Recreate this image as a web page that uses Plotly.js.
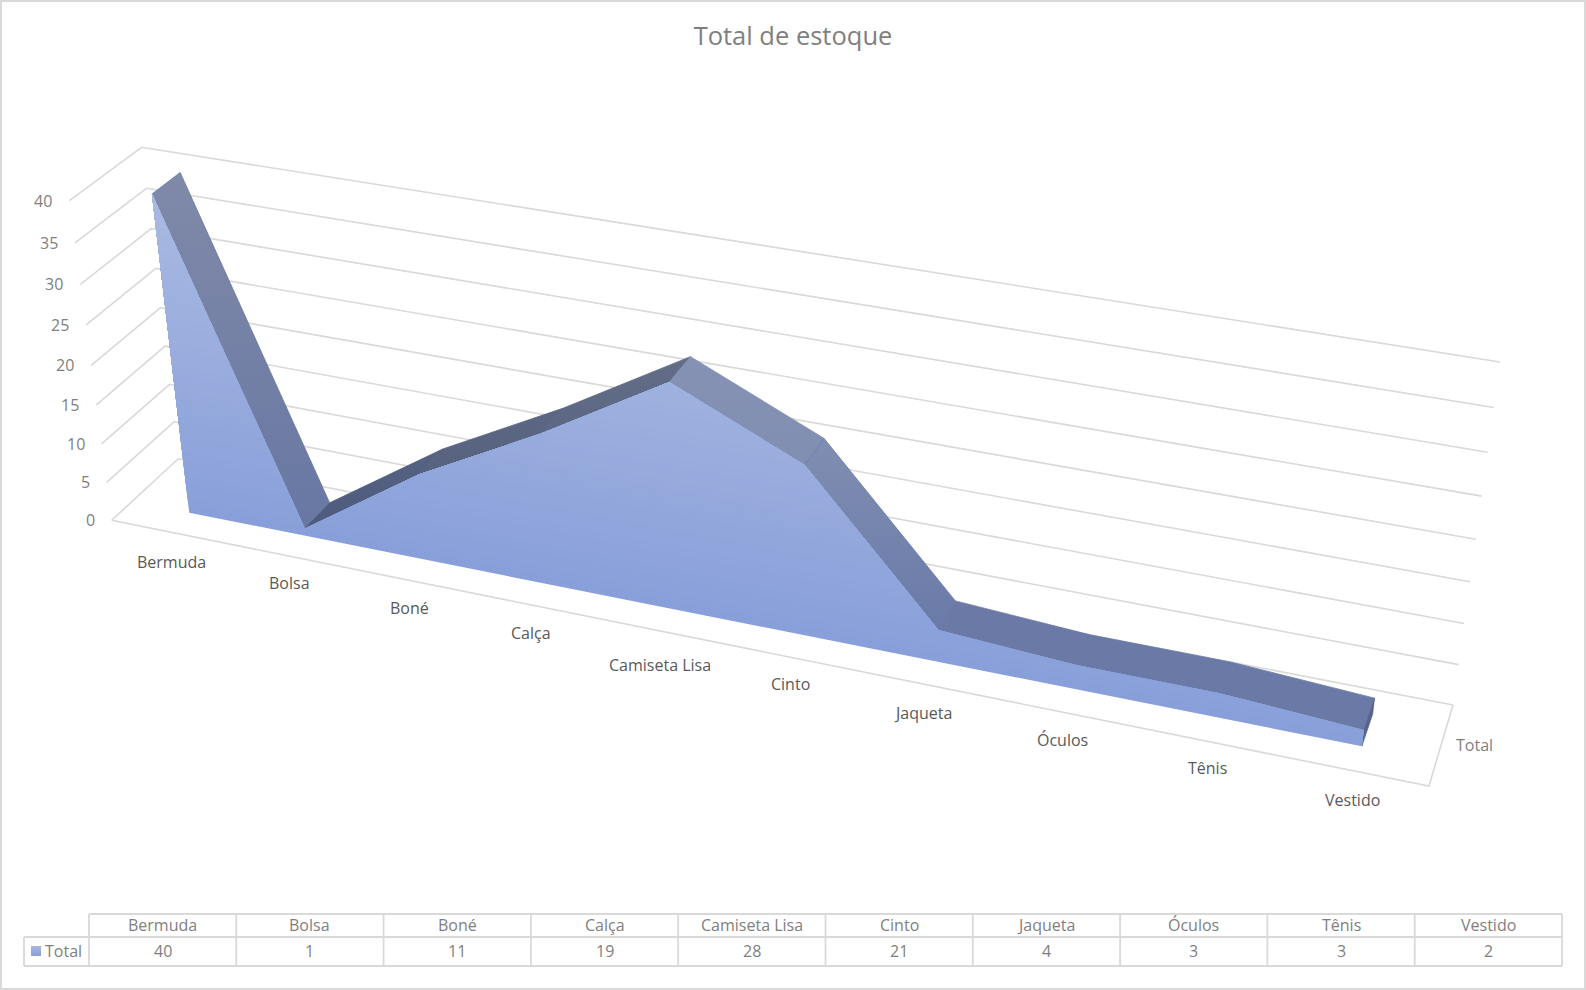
<!DOCTYPE html>
<html><head><meta charset="utf-8">
<script src="https://cdn.plot.ly/plotly-3.0.1.min.js"></script>
<style>html,body{margin:0;padding:0;background:#fff;overflow:hidden}</style>
</head><body><div id="chart" style="width:1586px;height:990px"></div>
<script>
// ---- data ----
const categories = ["Bermuda","Bolsa","Boné","Calça","Camiseta Lisa","Cinto","Jaqueta","Óculos","Tênis","Vestido"];
const totals = [40,1,11,19,28,21,4,3,3,2];
const seriesName = "Total";
const valueTicks = [0,5,10,15,20,25,30,35,40];
const valueMax = 40;
const chartTitle = "Total de estoque";

// ---- styling ----
const GRID = "#D9D9D9", TXT = "#7F7F7F", CAT = "#595959", FONT = "'Open Sans', sans-serif";
const segColors = [
  ["#8089A8","#6878A3"],["#56627F","#4E5B7F"],["#5C6783","#56627F"],["#636D87","#5C6783"],
  ["#8592B4","#808EB1"],["#808EB2","#6A7AA8"],["#6A79A6","#6A79A6"],["#6A79A6","#6A79A6"],["#6A79A6","#6A79A6"]
];
const labelNudgeX = [1,3,3,1,3,4,2,4,6,5];
const labelNudgeY = [1,-2,-1,-1,5,-2,0,-1,-2,0];
const WF = 0.30, WB = 0.70; // depth of the area's front and back faces

// ---- projection of the 3D box (u: category, v: value, w: depth) on the page ----
const calib = [
  [0,0,0,112,520],[0,0,1,178,459],[1,0,0,1429,786],[1,0,1,1453,705],
  [0,1,0,69,201],[0,1,1,142,147],[1,1,1,1500,362]
];
function solveProjection(pts){
  const rows=[],rhs=[];
  pts.forEach(([u,v,w,X,Y])=>{
    rows.push([u,v,w,1,0,0,0,0,-X*u,-X*v,-X*w]);rhs.push(X);
    rows.push([0,0,0,0,u,v,w,1,-Y*u,-Y*v,-Y*w]);rhs.push(Y);
  });
  const n=11,A=[];
  for(let i=0;i<n;i++){A.push(new Array(n+1).fill(0));
    for(let j=0;j<n;j++)rows.forEach(r=>A[i][j]+=r[i]*r[j]);
    rows.forEach((r,k)=>A[i][n]+=r[i]*rhs[k]);}
  for(let i=0;i<n;i++){let p=i;for(let k=i+1;k<n;k++)if(Math.abs(A[k][i])>Math.abs(A[p][i]))p=k;
    [A[i],A[p]]=[A[p],A[i]];
    for(let k=0;k<n;k++)if(k!==i){const f=A[k][i]/A[i][i];for(let j=i;j<=n;j++)A[k][j]-=f*A[i][j];}}
  return A.map((r,i)=>r[n]/r[i]);
}
const M = solveProjection(calib);
function proj(u,v,w){const d=M[8]*u+M[9]*v+M[10]*w+1;
  return [(M[0]*u+M[1]*v+M[2]*w+M[3])/d,(M[4]*u+M[5]*v+M[6]*w+M[7])/d];}
const catU = i => (i+0.5)/categories.length;
const P = (i,val,w) => proj(catU(i),val/valueMax,w);

const traces=[];
function line(pts,width){traces.push({type:"scatter",mode:"lines",x:pts.map(p=>p[0]),y:pts.map(p=>p[1]),
  line:{color:GRID,width:width||1.6},hoverinfo:"skip",showlegend:false});}
function poly(pts,c0,c1,stroke){
  const ys=pts.map(p=>p[1]),closed=pts.concat([pts[0]]);
  traces.push({type:"scatter",mode:"lines",x:closed.map(p=>p[0]),y:closed.map(p=>p[1]),
    fill:"toself",line:{width:stroke||0,color:c1},hoverinfo:"skip",showlegend:false,
    fillgradient:{type:"vertical",colorscale:[[0,c0],[1,c1]],start:Math.min(...ys),stop:Math.max(...ys)}});
}
function solid(pts,c,stroke){
  const closed=pts.concat([pts[0]]);
  traces.push({type:"scatter",mode:"lines",x:closed.map(p=>p[0]),y:closed.map(p=>p[1]),
    fill:"toself",fillcolor:c,line:{width:stroke||0,color:c},hoverinfo:"skip",showlegend:false});
}
// gridlines on the side and back walls
valueTicks.forEach(t=>{const v=t/valueMax;line([proj(0,v,0),proj(0,v,1),proj(1,v,1)]);});
// floor frame
line([proj(0,0,0),proj(1,0,0),proj(1,0,1)]);

// top surface of the area, one facet per pair of categories
for(let i=0;i<totals.length-1;i++){
  poly([P(i,totals[i],WF),P(i,totals[i],WB),P(i+1,totals[i+1],WB),P(i+1,totals[i+1],WF)],segColors[i][0],segColors[i][1],0.8);
}
// right end cap
const L=totals.length-1;
solid([P(L,totals[L],WF),P(L,totals[L],WB),P(L,0,WB),P(L,0,WF)],"#56648C",0.6);

// front face: shaded by height. Each layer is the part of the area above a
// value level, painted over the one below, so no seams show between layers.
// A level may cut the area into several separate runs; each is its own polygon.
function runsAbove(level){
  const runs=[];let cur=null;
  const close=()=>{if(cur&&cur.length>=3)runs.push(cur);cur=null;};
  totals.forEach((t,i)=>{
    if(t>=level){
      if(!cur){cur=[];
        if(i===0)cur.push([catU(0),level]);
        else{const f=(level-totals[i-1])/(t-totals[i-1]);cur.push([catU(i-1)+f*(catU(i)-catU(i-1)),level]);}
      }
      cur.push([catU(i),t]);
      if(i===L)cur.push([catU(L),level]);
    }else if(cur){
      const f=(level-totals[i-1])/(t-totals[i-1]);
      cur.push([catU(i-1)+f*(catU(i)-catU(i-1)),level]);
      close();
    }
  });
  close();
  return runs;
}
const low=[0x88,0x9F,0xD9],high=[0xA9,0xB9,0xE1];
const mix=f=>"rgb("+low.map((c,k)=>Math.round(c+(high[k]-c)*f)).join(",")+")";
for(let b=0;b<valueMax;b++){
  runsAbove(b).forEach(pg=>solid(pg.map(p=>proj(p[0],p[1]/valueMax,WF)),mix((b+0.5)/valueMax)));
}

// legend swatch in the data table
poly([[31,946],[41,946],[41,956],[31,956]],"#A8B8E0","#889FD9");

// ---- labels ----
const ann=[];
function label(x,y,text,color,anchor){ann.push({x,y,xref:"x",yref:"y",text,showarrow:false,xanchor:anchor||"center",yanchor:"middle",
  font:{family:FONT,size:16,color},borderpad:0});}
valueTicks.forEach(t=>{const p=proj(0,t/valueMax,0);label(p[0]-16,p[1],String(t),TXT,"right");});
categories.forEach((c,i)=>{const p=proj(catU(i),0,0);label(p[0]-7-7*i/9+8+labelNudgeX[i],p[1]+29+labelNudgeY[i],c,CAT);});
{const p=proj(1,0,0.5);label(p[0]+33,p[1],seriesName,TXT);}

// ---- data table ----
const colW=(1562-89)/categories.length,TY=[914,937,966];
const shapes=[];
function seg(x0,y0,x1,y1){shapes.push({type:"line",xref:"x",yref:"y",x0,y0,x1,y1,line:{color:GRID,width:1.8}});}
seg(89,TY[0],1562,TY[0]);seg(24,TY[1],1562,TY[1]);seg(24,TY[2],1562,TY[2]);
seg(24,TY[1],24,TY[2]);
for(let i=0;i<=categories.length;i++)seg(89+colW*i,TY[0],89+colW*i,TY[2]);
categories.forEach((c,i)=>{const x=89+colW*(i+0.5);label(x,925,c,TXT);label(x,951,String(totals[i]),TXT);});
label(44,951,seriesName,TXT,"left");
// outer border
shapes.push({type:"rect",xref:"paper",yref:"paper",x0:0.0006,y0:0.001,x1:0.9994,y1:0.999,line:{color:GRID,width:2},fillcolor:"rgba(0,0,0,0)"});

Plotly.newPlot("chart",traces,{
  width:1586,height:990,margin:{l:0,r:0,t:0,b:0},
  paper_bgcolor:"#fff",plot_bgcolor:"#fff",showlegend:false,
  title:{text:chartTitle,x:793/1586,xanchor:"center",xref:"paper",y:1-36/990,yref:"paper",yanchor:"middle",font:{family:FONT,size:25.5,color:TXT}},
  xaxis:{range:[0,1586],visible:false,fixedrange:true},
  yaxis:{range:[990,0],visible:false,fixedrange:true},
  annotations:ann,shapes:shapes
},{displayModeBar:false,staticPlot:true});
</script></body></html>
